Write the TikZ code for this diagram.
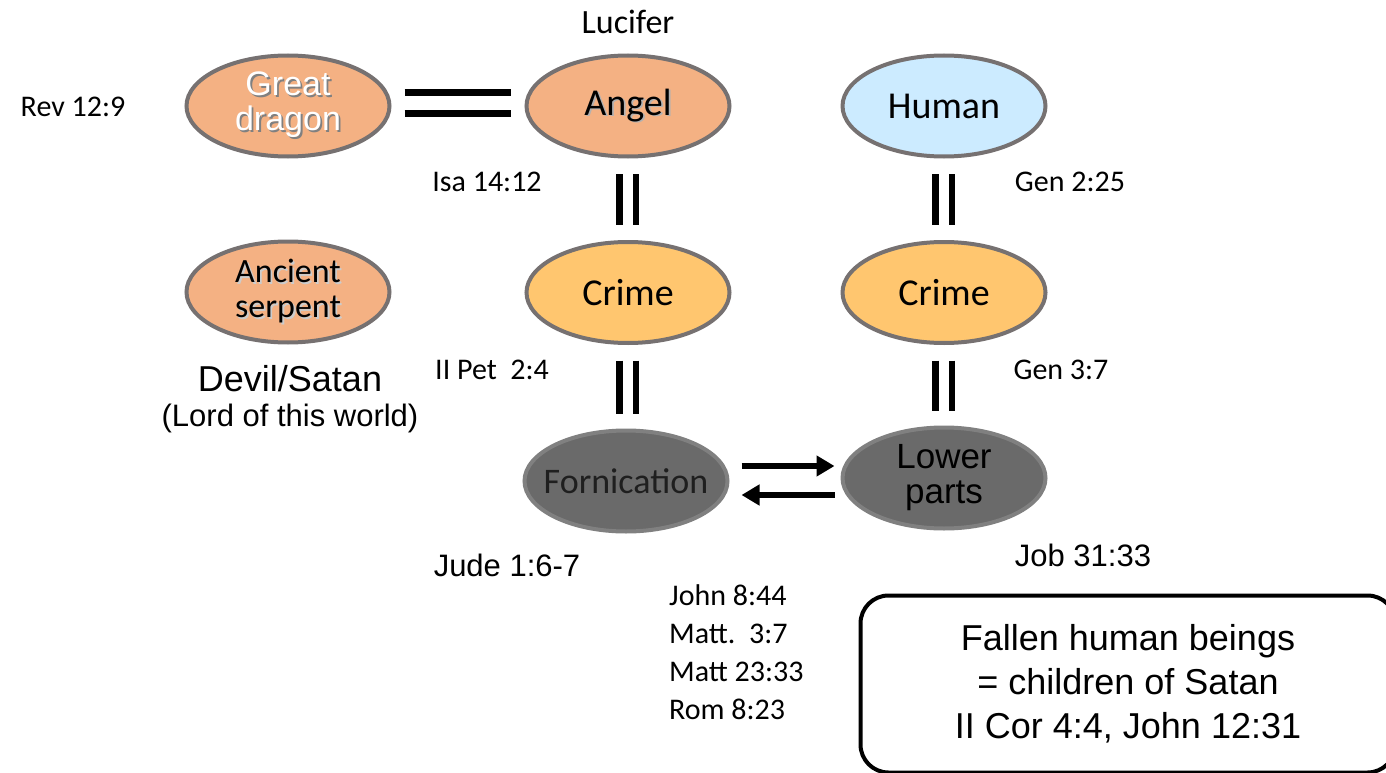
\documentclass[tikz,border=0pt]{standalone}
\usepackage{fontspec}
\setmainfont{Liberation Sans}
\newfontfamily\lt{Carlito}
\usetikzlibrary{shapes.geometric,arrows.meta,calc}
\definecolor{salmon}{HTML}{F4B183}
\definecolor{crimeor}{HTML}{FFC66F}
\definecolor{humanbl}{HTML}{CCEBFF}
\definecolor{darkg}{HTML}{6A6A6A}
\definecolor{edgeg}{HTML}{767171}
\newcommand{\shad}[2]{\makebox[0pt]{\rlap{\kern1.8pt\raisebox{-1.8pt}{\color{#1}#2}}#2}}
\newcommand{\zb}[1]{\makebox[0pt]{#1}}
\tikzset{
  ell/.style={ellipse, draw=edgeg, line width=4pt, minimum width=203pt, minimum height=101pt, inner sep=0pt, align=center},
  bigtxt/.style={font=\fontsize{34}{35}\selectfont},
  lttxt/.style={font=\lt\fontsize{38}{40}\selectfont},
  lab/.style={font=\lt\fontsize{30}{36}\selectfont},
  arial/.style={font=\fontsize{31}{38}\selectfont},
  eqbar/.style={line width=6.5pt, black},
  arr/.style={line width=6pt, -{Triangle[length=18pt,width=20pt]}}
}
\begin{document}
\begin{tikzpicture}[x=1pt,y=-1pt]
\useasboundingbox (0,0) rectangle (1386,773);
% ellipses
\node[ell, fill=salmon, bigtxt, text=white] (dragon) at (288,106) {\shad{black!50}{Great}\\\shad{black!50}{dragon}};
\node[ell, fill=salmon, lttxt] (angel) at (628,106) {\shad{black!30}{Angel}};
\node[ell, fill=humanbl, lttxt] (human) at (944,106) {\zb{Human}};
\node[ell, fill=salmon, font=\lt\fontsize{34}{35}\selectfont] (serpent) at (288,292) {\shad{black!20}{Ancient}\\\shad{black!20}{serpent}};
\node[ell, fill=crimeor, lttxt] (crime1) at (628,292.5) {\zb{Crime}};
\node[ell, fill=crimeor, lttxt] (crime2) at (944,292.5) {\zb{Crime}};
\node[ell, fill=darkg, draw=darkg!85!white, font=\lt\fontsize{36}{40}\selectfont, text=black!88] (forn) at (626,481) {\zb{Fornication}};
\node[ell, fill=darkg, draw=darkg!85!white, font=\fontsize{35}{35}\selectfont, text=black] (lower) at (944,478) {\zb{Lower}\\\zb{parts}};
% labels
\node[lab, font=\lt\fontsize{34}{36}\selectfont] (lucifer) at (628,22) {Lucifer};
\node[lab] (rev) at (73,107) {Rev 12:9};
\node[lab] (isa) at (487,182) {Isa 14:12};
\node[lab] (gen225) at (1070,182) {Gen 2:25};
\node[lab] (pet) at (492,370) {II Pet\ \ 2:4};
\node[lab] (gen37) at (1061,370) {Gen 3:7};
\node[font=\fontsize{36}{38}\selectfont] (devil) at (290,379) {Devil/Satan};
\node[arial] (lord) at (290,418) {(Lord of this world)};
\node[arial] (jude) at (507,565) {Jude 1:6-7};
\node[arial] (job) at (1083,555) {Job 31:33};
\node[lab, align=left, anchor=west, inner sep=0pt, font=\lt\fontsize{30}{38}\selectfont] (refs) at (669,652) {John 8:44\\Matt.\ \ 3:7\\Matt 23:33\\Rom 8:23};
\node[draw, line width=4pt, rounded corners=28pt, minimum width=535pt, minimum height=177pt, align=center, font=\fontsize{36}{44}\selectfont] (box) at (1128,684) {Fallen human beings\\= children of Satan\\II Cor 4:4, John 12:31};
% equality bars
\draw[eqbar] ($(dragon.east)+(13,-13.5)$) -- ($(angel.west)+(-14,-13.5)$);
\draw[eqbar] ($(dragon.east)+(13,7.5)$) -- ($(angel.west)+(-14,7.5)$);
\foreach \a/\b in {angel/crime1, crime1/forn, human/crime2, crime2/lower}{
  \draw[eqbar] ($(\a.south)+(-8.5,15.5)$) -- ($(\a.south |- \b.north)+(-8.5,-15)$);
  \draw[eqbar] ($(\a.south)+(8,15.5)$) -- ($(\a.south |- \b.north)+(8,-15)$);
}
% arrows
\draw[arr] ($(forn.east)+(12,-15)$) -- ($(lower.west)+(-6,-12)$);
\draw[arr] ($(lower.west)+(-6,17)$) -- ($(forn.east)+(12,14)$);
\end{tikzpicture}
\end{document}
